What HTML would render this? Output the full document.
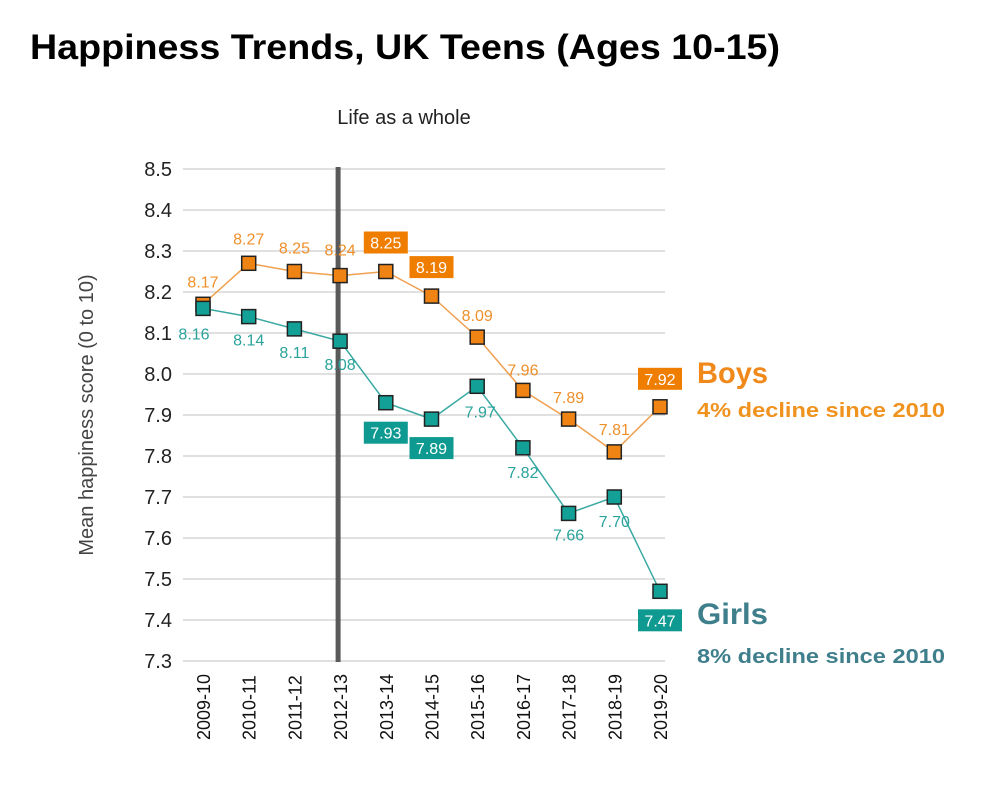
<!DOCTYPE html>
<html><head><meta charset="utf-8"><style>
body{margin:0;background:#fff;width:990px;height:790px;overflow:hidden}
svg{display:block;font-family:"Liberation Sans",sans-serif}
</style></head><body>
<svg id="chart" width="990" height="790" viewBox="0 0 990 790">
<text x="30" y="59" font-size="35" font-weight="bold" fill="#000" textLength="750" lengthAdjust="spacingAndGlyphs">Happiness Trends, UK Teens (Ages 10-15)</text>
<text x="404" y="124" font-size="20" fill="#222" text-anchor="middle">Life as a whole</text>
<text transform="translate(93,415) rotate(-90)" font-size="20" fill="#444" text-anchor="middle">Mean happiness score  (0 to 10)</text>
<g id="grid"></g><g id="yt"></g><g id="xt"></g><g id="series"></g>
<text x="697" y="383" font-size="30" font-weight="bold" fill="#f0881a" textLength="71" lengthAdjust="spacingAndGlyphs">Boys</text>
<text x="697" y="417" font-size="20" font-weight="bold" fill="#f0921e" textLength="248" lengthAdjust="spacingAndGlyphs">4% decline since 2010</text>
<text x="697" y="624" font-size="30" font-weight="bold" fill="#3f7f8c" textLength="71" lengthAdjust="spacingAndGlyphs">Girls</text>
<text x="697" y="663" font-size="20" font-weight="bold" fill="#3f7f8c" textLength="248" lengthAdjust="spacingAndGlyphs">8% decline since 2010</text>
</svg>
<script>
const categories=["2009-10","2010-11","2011-12","2012-13","2013-14","2014-15","2015-16","2016-17","2017-18","2018-19","2019-20"];
const boys=[8.17,8.27,8.25,8.24,8.25,8.19,8.09,7.96,7.89,7.81,7.92];
const girls=[8.16,8.14,8.11,8.08,7.93,7.89,7.97,7.82,7.66,7.70,7.47];
const yTicks=[8.5,8.4,8.3,8.2,8.1,8.0,7.9,7.8,7.7,7.6,7.5,7.4,7.3];
const boysBoxed=[4,5,10];
const girlsBoxed=[4,5,10];
const boysDy=[-23,-25,-24,-26,-29,-29,-22,-21,-22,-23,-28];
const girlsDy=[25,23,23,23,30,29,25,24,21,24,29];
const girlsDx=[-9,0,0,0,0,0,3,0,0,0,0];
const NS="http://www.w3.org/2000/svg";
const yMax=8.5,yMin=7.3,y0=169,y1=661,x0=203,x1=660;
const ys=v=>y0+(yMax-v)/(yMax-yMin)*(y1-y0);
const xs=i=>x0+i*(x1-x0)/(categories.length-1);
function mk(tag,attrs,parent){const e=document.createElementNS(NS,tag);for(const k in attrs)e.setAttribute(k,attrs[k]);parent.appendChild(e);return e;}
const grid=document.getElementById('grid'),yt=document.getElementById('yt'),xt=document.getElementById('xt'),ser=document.getElementById('series');
yTicks.forEach(t=>{
  const l=mk('line',{x1:183,x2:665,y1:ys(t),y2:ys(t),stroke:'#e0e0e0','stroke-width':2},grid);
  
  
  const tx=mk('text',{x:172,y:ys(t)+7,'font-size':20,fill:'#222','text-anchor':'end'},yt);
  tx.textContent=t.toFixed(1);
  
  
});
const vl=mk('line',{x1:xs(3)-2,x2:xs(3)-2,y1:167,y2:662,stroke:'#5a5a5a','stroke-width':5},grid);


categories.forEach((c,i)=>{
  const tx=mk('text',{transform:`translate(${xs(i)+7},${740}) rotate(-90)`,'font-size':18,fill:'#111'},xt);
  tx.textContent=c;
  
  
});
function drawSeries(vals,name,line,fill,txtCol,boxCol,boxed,dys,dxs){
  const g=mk('g',{},ser);
  
  
  const p=mk('polyline',{points:vals.map((v,i)=>xs(i)+','+ys(v)).join(' '),fill:'none',stroke:line,'stroke-width':1.5},g);
  
  
  vals.forEach((v,i)=>{
    const r=mk('rect',{x:xs(i)-7,y:ys(v)-7,width:14,height:14,fill:fill,stroke:'#222','stroke-width':1.5},g);
    
    
    const cx=xs(i)+(dxs?dxs[i]:0),cy=ys(v)+dys[i];
    const isBox=boxed.includes(i);
    if(isBox){
      const b=mk('rect',{x:cx-22,y:cy-11,width:44,height:22,fill:boxCol},g);
      
      
    }
    const t=mk('text',{x:cx,y:cy+6,'font-size':16,'text-anchor':'middle',fill:isBox?'#fff':txtCol},g);
    t.textContent=v.toFixed(2);
    
    
  });
}
drawSeries(boys,'boys','#f0a050','#ef8414','#ef8f2a','#ef7d00',boysBoxed,boysDy,null);
drawSeries(girls,'girls','#3aa9a2','#12a097','#2aa39b','#0f9a91',girlsBoxed,girlsDy,girlsDx);
</script>
</body></html>
